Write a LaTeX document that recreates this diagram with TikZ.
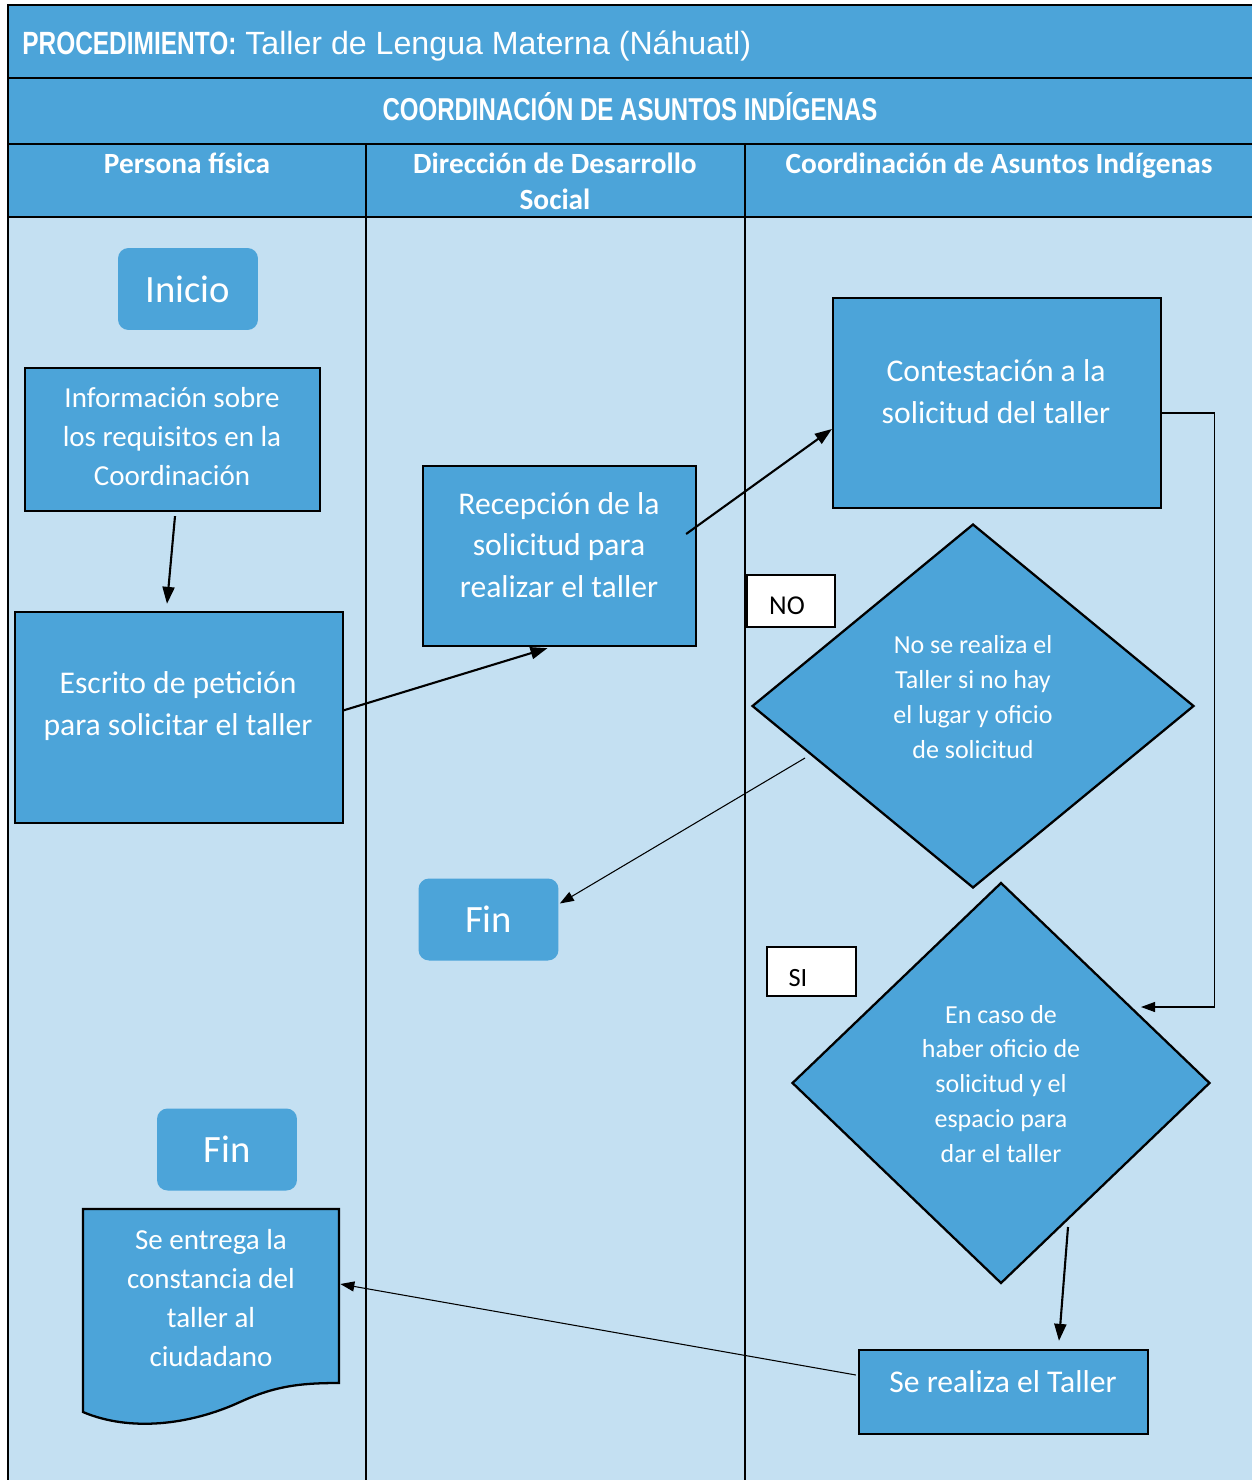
\documentclass[tikz,border=0pt]{standalone}
\usepackage{fontspec}
\setmainfont{Carlito}
\newfontfamily\arialfont{Liberation Sans}
\newfontfamily\narrowfont[FakeStretch=0.76]{Liberation Sans}
\usepackage{tikz}
\usetikzlibrary{calc,arrows.meta,shapes.geometric}
\definecolor{lanelight}{RGB}{196,224,242}
\definecolor{laneblue}{RGB}{76,164,217}
\tikzset{
  fbox/.style ={rectangle, draw=black, fill=laneblue, line width=1.3pt, inner sep=0pt},
  fdiam/.style={diamond, draw=black, fill=laneblue, line width=1.3pt, inner sep=0pt},
  fterm/.style={rectangle, rounded corners=6pt, fill=laneblue, text=white,
                minimum width=2.8cm, minimum height=1.64cm,
                font=\fontsize{22}{26}\selectfont},
  ftext/.style={text=white, align=center, inner sep=0pt},
  fsmall/.style={ftext, font=\fontsize{16.5}{22.2}\selectfont},
  fmid/.style  ={ftext, font=\fontsize{18}{23.8}\selectfont},
  fdia/.style  ={ftext, font=\fontsize{14.8}{19.9}\selectfont},
  ftag/.style ={rectangle, draw=black, fill=white, line width=1pt, inner sep=0pt,
                font=\fontsize{15}{18}\selectfont},
  fdir/.style ={-{Triangle[length=3.4mm,width=2.4mm]}, line width=1.2pt},
  fthin/.style={-{Triangle[length=2.8mm,width=2mm]}, line width=0.6pt},
  lanehead/.style={text=white, align=center, inner sep=0pt,
                   font=\bfseries\fontsize{16.7}{20.4}\selectfont},
  laneline/.style={line width=1.3pt},
}

\begin{document}
\begin{tikzpicture}[x=0.02cm, y=-0.02cm]
  \useasboundingbox (0,0) rectangle (1252,1480);
  \fill[laneblue]  (8,5) rectangle (1252,217);
  \fill[lanelight] (8,217) rectangle (1252,1480);
  \draw[laneline] (1252,5) -- (8,5) -- (8,1480);
  \draw[laneline] (8,78) -- (1252,78);
  \draw[laneline] (8,144) -- (1252,144);
  \draw[laneline] (8,217) -- (1252,217);
  \draw[line width=1pt] (366,144) -- (366,1480);
  \draw[line width=1pt] (745,144) -- (745,1480);

  \node[anchor=base west, text=white, inner sep=0pt, font=\fontsize{18.3}{20}\selectfont] (titulo) at (22,55)
    {{\narrowfont\bfseries PROCEDIMIENTO:}\arialfont\ Taller de Lengua Materna (Náhuatl)};
  \node[anchor=base, text=white, inner sep=0pt, font=\narrowfont\bfseries\fontsize{18}{20}\selectfont] (area) at (630,121)
    {COORDINACIÓN DE ASUNTOS INDÍGENAS};
  \node[lanehead, anchor=north] (hpersona)   at (187,153) {Persona física};
  \node[lanehead, anchor=north] (hdireccion) at (555,153) {Dirección de Desarrollo\\Social};
  \node[lanehead, anchor=north] (hcoord)     at (999,153) {Coordinación de Asuntos Indígenas};

  \node[fterm] (inicio) at (188,289) {Inicio};
  \node[fbox, minimum width=5.9cm, minimum height=2.86cm] (info) at (172.5,439.5) {};
  \node[fsmall] (infot) at (172,437) {Información sobre\\los requisitos en la\\Coordinación};
  \node[fbox, minimum width=6.56cm, minimum height=4.22cm] (escrito) at (179,717.5) {};
  \node[fmid] (escritot) at (178,706) {Escrito de petición\\para solicitar el taller};
  \node[fbox, minimum width=5.46cm, minimum height=3.6cm] (recep) at (559.5,556) {};
  \node[fmid] (recept) at (559,545) {Recepción de la\\solicitud para\\realizar el taller};
  \node[fbox, minimum width=6.56cm, minimum height=4.2cm] (contest) at (997,403) {};
  \node[fmid] (contestt) at (996,392) {Contestación a la\\solicitud del taller};
  \node[fdiam, minimum width=8.84cm, minimum height=7.28cm] (diamno) at (973,706) {};
  \node[fdia] (diamnot) at (973,697) {No se realiza el\\Taller si no hay\\el lugar y oficio\\de solicitud};
  \node[ftag, minimum width=1.76cm, minimum height=1.04cm] (tagno) at (791,601) {};
  \node[font=\fontsize{15.5}{18}\selectfont, inner sep=0pt] (tagnot) at (787,606) {NO};
  \node[fterm] (finmid) at (488.5,919.5) {Fin};
  \node[ftag, minimum width=1.78cm, minimum height=0.98cm] (tagsi) at (811.5,971.5) {};
  \node[font=\fontsize{15}{18}\selectfont, inner sep=0pt] (tagsit) at (798,978) {SI};
  \node[fdiam, minimum width=8.36cm, minimum height=8.02cm] (diamsi) at (1001,1083) {};
  \node[fdia] (diamsit) at (1001,1084) {En caso de\\haber oficio de\\solicitud y el\\espacio para\\dar el taller};
  \node[fterm] (finleft) at (227,1149.5) {Fin};
  \draw[fill=laneblue, line width=1.3pt] (83,1209) -- (339,1209) -- (339,1383)
    .. controls (300,1383) and (275,1386) .. (240,1402)
    .. controls (190,1425) and (130,1432) .. (83,1412) -- cycle;
  \node[minimum width=5.12cm, minimum height=3.48cm, inner sep=0pt] (doc) at (211,1296) {};
  \node[fsmall] (doct) at (211,1298) {Se entrega la\\constancia del\\taller al\\ciudadano};
  \node[fbox, minimum width=5.78cm, minimum height=1.68cm] (realiza) at (1003.5,1392) {};
  \node[fmid] (realizat) at (1003,1382) {Se realiza el Taller};

  \draw[fdir] ($(info.south)+(2.5,4)$) -- ($(escrito.north)+(-12,-7)$);
  \draw[fdir] ($(escrito.east)+(-1,-7)$) -- ($(recep.south)+(-12,1)$);
  \draw[fdir] ($(recep.east)+(-11,-22)$) -- ($(contest.west)+(0,26)$);
  \draw[fthin] ($(contest.east)+(0,10)$) -- ++(52,0) |- ($(diamsi.center)+(140,-76)$);
  \draw[fthin] ($(diamno.center)+(-168,52)$) -- ($(finmid.east)+(1,-16)$);
  \draw[fdir] ($(diamsi.center)+(67,144)$) -- ($(realiza.north)+(55.5,-8)$);
  \draw[fthin] ($(realiza.west)+(-2,-17)$) -- ($(doc.east)+(1,-12)$);
\end{tikzpicture}
\end{document}
